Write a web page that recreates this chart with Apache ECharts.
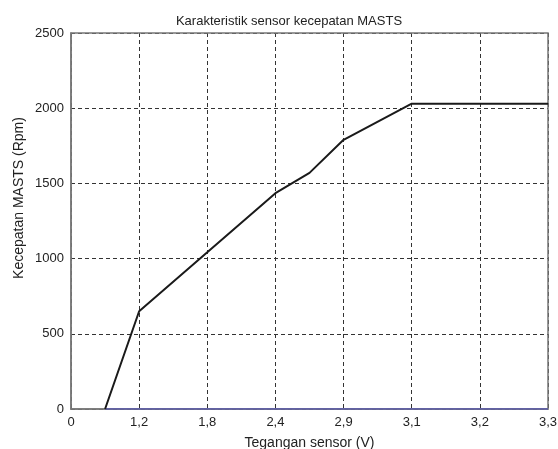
<!DOCTYPE html>
<html>
<head>
<meta charset="utf-8">
<script src="https://cdn.jsdelivr.net/npm/echarts@6/dist/echarts.min.js"></script>
<style>
    html, body { margin: 0; padding: 0; background: #fff; }
    #chart { width: 558px; height: 449px; }
</style>
</head>
<body>
<div id="chart"></div>
<script>
// tick labels sit on evenly spaced grid lines, so x is the grid position
const xTickLabels = ["0", "1,2", "1,8", "2,4", "2,9", "3,1", "3,2", "3,3"];
const xPos = [0.5, 1, 3, 3.5, 4, 5, 7];
const rpm = [0, 650, 1435, 1570, 1790, 2030, 2030];
const baseX = [0.5, 7];
const baseY = [0, 0];

const font = "Liberation Sans, Arial, sans-serif";

const chart = echarts.init(document.getElementById("chart"));
chart.setOption({
    animation: false,
    title: {
        text: "Karakteristik sensor kecepatan MASTS",
        left: 284,
        top: 10,
        textAlign: "center",
        textStyle: {
            fontFamily: font,
            fontSize: 13,
            fontWeight: "normal",
            color: "#222",
        },
    },
    grid: {
        left: 71, right: 10, top: 33, bottom: 40,
        containLabel: false,
        outerBoundsMode: "none",
    },
    xAxis: {
        type: "value",
        min: 0,
        max: 7,
        interval: 1,
        name: "Tegangan sensor (V)",
        nameLocation: "middle",
        nameGap: 27,
        nameTextStyle: { fontFamily: font, fontSize: 14, color: "#222" },
        axisLine: { show: true, lineStyle: { color: "#777", width: 1.5 } },
        axisTick: { show: false },
        axisLabel: {
            fontFamily: font,
            fontSize: 13,
            color: "#222",
            margin: 7,
            formatter: (v) => xTickLabels[Math.round(v)],
        },
        splitLine: {
            show: true,
            lineStyle: { type: [4, 3], color: "#333", width: 1 },
        },
    },
    yAxis: {
        type: "value",
        min: 0,
        max: 2500,
        interval: 500,
        axisLine: { show: true, lineStyle: { color: "#777", width: 1.5 } },
        axisTick: { show: false },
        axisLabel: {
            fontFamily: font,
            fontSize: 13,
            color: "#222",
            margin: 7,
            formatter: (v) => String(v),
        },
        splitLine: {
            show: true,
            lineStyle: { type: [4, 3], color: "#333", width: 1 },
        },
    },
    graphic: [
        // frame top and right
        {
            type: "rect",
            shape: { x: 71, y: 33, width: 477, height: 376 },
            style: { fill: "none", stroke: "#777", lineWidth: 1.5 },
            z: 1,
        },
        {
            type: "text",
            x: 19,
            y: 198,
            rotation: Math.PI / 2,
            style: {
                text: "Kecepatan MASTS (Rpm)",
                fontFamily: font,
                fontSize: 14,
                fill: "#222",
                align: "center",
                verticalAlign: "middle",
            },
        },
    ],
    series: [
        {
            type: "line",
            data: baseX.map((x, i) => [x, baseY[i]]),
            symbol: "none",
            lineStyle: { color: "#5858b0", width: 1.5 },
            z: 3,
        },
        {
            type: "line",
            data: xPos.map((x, i) => [x, rpm[i]]),
            symbol: "none",
            lineStyle: { color: "#1a1a1a", width: 2 },
            z: 4,
        },
    ],
});
</script>
</body>
</html>
